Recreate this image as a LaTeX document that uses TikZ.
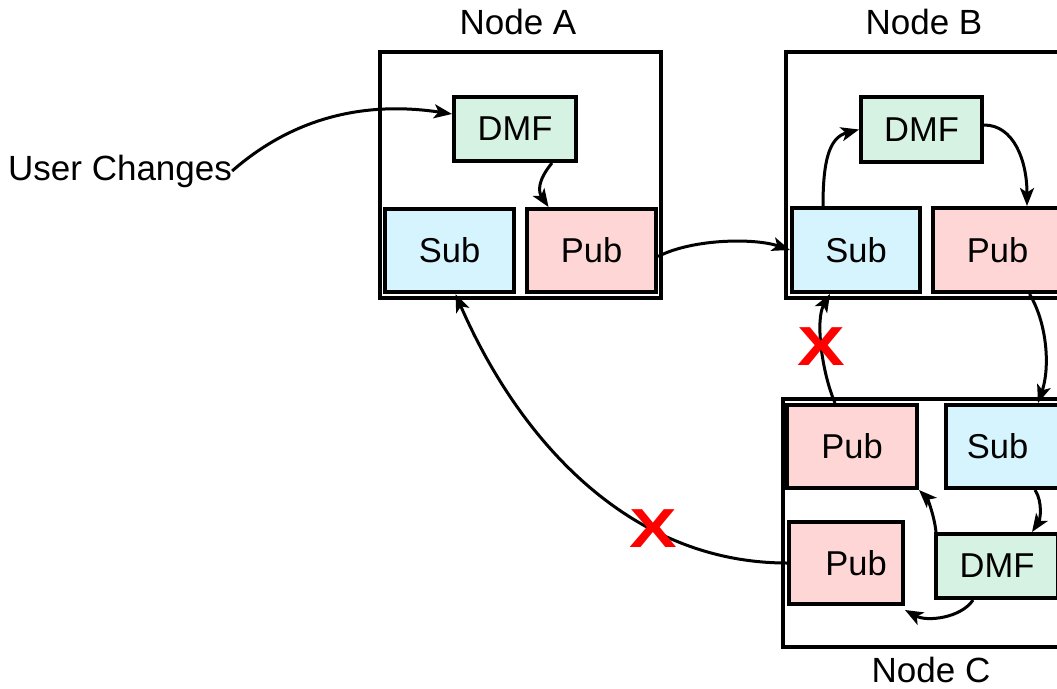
\documentclass[tikz,border=0pt]{standalone}
\usepackage{fontspec}
\setmainfont{Liberation Sans}
\usetikzlibrary{arrows.meta}
\definecolor{dmfc}{RGB}{214,242,226}
\definecolor{subc}{RGB}{213,244,253}
\definecolor{pubc}{RGB}{255,214,214}
\begin{document}
\begin{tikzpicture}[x=1pt,y=-1pt,
  outer/.style={draw,line width=4pt,inner sep=0pt},
  comp/.style={draw,line width=4pt,inner sep=0pt,font=\fontsize{34.5}{40}\selectfont},
  dmf/.style={comp,fill=dmfc},
  subb/.style={comp,fill=subc},
  pubb/.style={comp,fill=pubc},
  lbl/.style={font=\fontsize{35}{40}\selectfont,inner sep=0pt},
  flow/.style={line width=3pt,-{Stealth[length=18pt,width=14pt,inset=4.5pt]}},
  cross/.style={text=red,font=\fontsize{55}{60}\selectfont\bfseries,inner sep=0pt,xscale=1.3}]
\clip (0,0) rectangle (1057,688);
% outer boxes
\node[outer,minimum width=281pt,minimum height=246pt] (boxA) at (520.5,175) {};
\node[outer,minimum width=281pt,minimum height=246pt] (boxB) at (926.5,175) {};
\node[outer,minimum width=281pt,minimum height=248pt] (boxC) at (923.5,523) {};
% labels
\node[lbl] (labA) at (518,22) {Node A};
\node[lbl] (labB) at (924,22) {Node B};
\node[lbl] (labC) at (931,670) {Node C};
\node[lbl,anchor=west] (uc) at (8,171) {User Changes};
% node A
\node[dmf,minimum width=122pt,minimum height=64pt] (dmfA) at (515,129) {DMF};
\node[subb,minimum width=129pt,minimum height=83pt] (subA) at (449.5,250.5) {Sub};
\node[pubb,minimum width=129pt,minimum height=83pt] (pubA) at (591.5,250.5) {Pub};
% node B
\node[dmf,minimum width=121pt,minimum height=65pt] (dmfB) at (921.5,129.5) {DMF};
\node[subb,minimum width=128pt,minimum height=84pt] (subB) at (856,250) {Sub};
\node[pubb,minimum width=129pt,minimum height=84pt] (pubB) at (997.5,250) {Pub};
% node C
\node[pubb,minimum width=130pt,minimum height=83pt] (pubC1) at (852,446.5) {Pub};
\node[subb,minimum width=129pt,minimum height=83pt] (subC) at (1010.5,446.5) {Sub\hspace*{26pt}};
\node[pubb,minimum width=114pt,minimum height=82pt] (pubC2) at (846,563) {\hspace*{20pt}Pub};
\node[dmf,minimum width=122pt,minimum height=64pt] (dmfC) at (997,566) {DMF};
% connectors
\draw[flow] (uc.east) .. controls +(57,-50) and +(-93,-14) .. ([yshift=15pt]dmfA.west);
\draw[flow] ([xshift=37pt]dmfA.south) .. controls +(-15,18) and +(-10,-15) .. ([xshift=-43pt]pubA.north);
\draw[flow] ([yshift=-6pt]pubA.east) .. controls +(35,-18) and +(-35,-12) .. (subB.west);
\draw[flow] ([xshift=-33pt]subB.north) .. controls +(0,-45) and +(-30,8) .. (dmfB.west);
\draw[flow] ([yshift=4.5pt]dmfB.east) .. controls +(30,0) and +(0,-45) .. ([xshift=29.5pt]pubB.north);
\draw[flow] ([xshift=32pt]pubB.south) .. controls +(18,30) and +(12,-35) .. ([xshift=27.5pt]subC.north);
\draw[flow] ([xshift=-17pt]pubC1.north) .. controls +(-13,-30) and +(-15,26) .. ([xshift=-26pt]subB.south);
\draw[flow] ([xshift=24.5pt]subC.south) .. controls +(8,12) and +(8,-12) .. ([xshift=35pt]dmfC.north);
\draw[flow] ([xshift=2pt]dmfC.north west) .. controls +(-2,-18) and +(8,8) .. (pubC1.south east);
\draw[flow] ([xshift=-24pt]dmfC.south) .. controls +(-12,18) and +(22,12) .. ([yshift=-4pt]pubC2.south east);
\draw[flow] (pubC2.west) .. controls +(-157,0) and +(64,147) .. ([xshift=6pt]subA.south);
% crosses
\node[cross] (x1) at (821,347) {X};
\node[cross] (x2) at (653,529) {X};
\end{tikzpicture}
\end{document}
